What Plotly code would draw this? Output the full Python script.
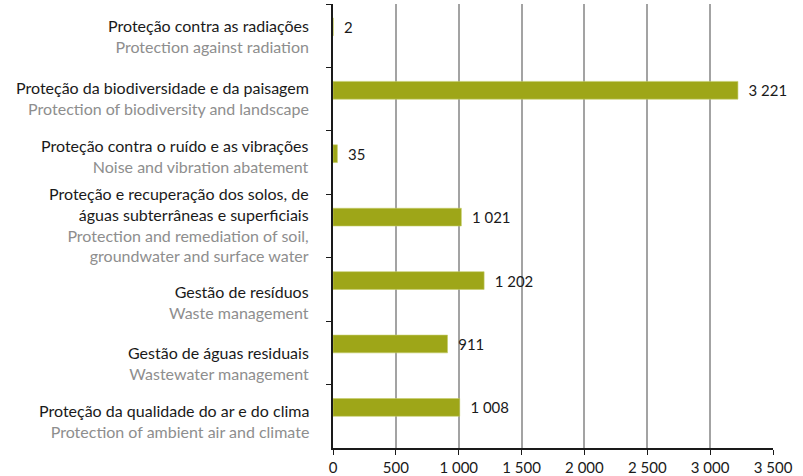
import plotly.graph_objects as go

# categories, top to bottom
labels_pt = [
    "Proteção contra as radiações",
    "Proteção da biodiversidade e da paisagem",
    "Proteção contra o ruído e as vibrações",
    "Proteção e recuperação dos solos, de<br>águas subterrâneas e superficiais",
    "Gestão de resíduos",
    "Gestão de águas residuais",
    "Proteção da qualidade do ar e do clima",
]
labels_en = [
    "Protection against radiation",
    "Protection of biodiversity and landscape",
    "Noise and vibration abatement",
    "Protection and remediation of soil,<br>groundwater and surface water",
    "Waste management",
    "Wastewater management",
    "Protection of ambient air and climate",
]
values = [2, 3221, 35, 1021, 1202, 911, 1008]

# small vertical nudges (px) so the label blocks sit as in the original
label_nudge = [0, 1, 7, 2, -13, -10, -5]

BAR = "#9ea618"
GREY_TXT = "#8e8e8e"
FONT = "Lato"

cats = [pt.split("<br>")[0] for pt in labels_pt]

fig = go.Figure(
    go.Bar(
        x=values,
        y=cats,
        orientation="h",
        marker=dict(color=BAR, line=dict(color="#c5cc6a", width=0.6)),
        width=0.28,
        offset=-0.28,
        texttemplate="\u00a0\u00a0%{x:,d}",
        textposition="outside",
        textfont=dict(family=FONT, size=16, color="#1a1a1a"),
        cliponaxis=False,
        hoverinfo="skip",
    )
)

for cat, pt, en, dy in zip(cats, labels_pt, labels_en, label_nudge):
    fig.add_annotation(
        x=0,
        xref="paper",
        y=cat,
        yref="y",
        xanchor="right",
        yanchor="middle",
        align="right",
        xshift=-22,
        yshift=dy,
        showarrow=False,
        text=f"{pt}<br><span style='color:{GREY_TXT}'>{en}</span>",
        font=dict(family=FONT, size=16, color="#1a1a1a"),
    )

fig.update_layout(
    width=803,
    height=476,
    margin=dict(l=333, r=30, t=4, b=28),
    plot_bgcolor="white",
    paper_bgcolor="white",
    separators=", ",
    showlegend=False,
    font=dict(family=FONT, size=16, color="#1a1a1a"),
)

fig.update_xaxes(
    range=[0, 3500],
    dtick=500,
    tick0=0,
    separatethousands=True,
    showgrid=True,
    gridcolor="#a3a3a3",
    gridwidth=1.6,
    zeroline=False,
    showline=True,
    linecolor="#1a1a1a",
    linewidth=1.5,
    ticks="outside",
    ticklen=5,
    tickcolor="#1a1a1a",
    tickfont=dict(family=FONT, size=15, color="#1a1a1a"),
    automargin=False,
)

fig.update_yaxes(
    autorange="reversed",
    type="category",
    tickson="boundaries",
    showgrid=False,
    showline=True,
    linecolor="#1a1a1a",
    linewidth=1.5,
    ticks="outside",
    ticklen=5,
    tickcolor="#1a1a1a",
    showticklabels=False,
    automargin=False,
)

# drop the browser's default body margin so the figure fills the window
fig.write_html(
    "out.html",
    config={"displayModeBar": False},
    post_script="document.body.style.margin='0';",
)
